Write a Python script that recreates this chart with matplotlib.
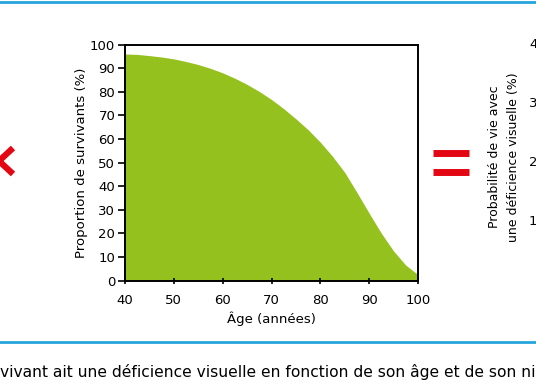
import matplotlib
matplotlib.use("Agg")
import matplotlib.pyplot as plt
from matplotlib.lines import Line2D

# data
ages = [40, 42.5, 45, 47.5, 50, 52.5, 55, 57.5, 60, 62.5, 65, 67.5, 70, 72.5,
        75, 77.5, 80, 82.5, 85, 87.5, 90, 92.5, 95, 97.5, 100]
survivors = [96.0, 95.8, 95.3, 94.7, 93.9, 92.8, 91.5, 89.9, 88.0, 85.7, 83.1,
             80.1, 76.7, 72.8, 68.5, 63.9, 58.6, 52.6, 45.8, 37.3, 28.5, 20.0,
             12.5, 6.5, 2.5]
x_ticks = [40, 50, 60, 70, 80, 90, 100]
y_ticks = [0, 10, 20, 30, 40, 50, 60, 70, 80, 90, 100]
right_ticks = [10, 20, 30, 40]   # next panel, only partly visible

GREEN = '#95c11f'
RED = '#e30613'
BLUE = '#27a3dc'
W, H = 536, 386

plt.rcParams['font.family'] = ['DejaVu Sans']

fig = plt.figure(figsize=(W / 100, H / 100), dpi=100)

# ── main panel ──────────────────────────────────────────────────────────────
ax = fig.add_axes([125 / W, 1 - 280.5 / H, 293 / W, 236 / H])
ax.fill_between(ages, survivors, 0, color=GREEN, lw=0)
ax.set_xlim(40, 100)
ax.set_ylim(0, 100)
ax.set_xticks(x_ticks)
ax.set_yticks(y_ticks)
for s in ax.spines.values():
    s.set_linewidth(1.4)
ax.tick_params(axis='y', direction='out', length=5, width=1.2, pad=2, labelsize=9.5)
ax.tick_params(axis='x', direction='inout', length=5, width=1.2, pad=7, labelsize=9.5)
ax.set_xlabel('Âge (années)', fontsize=9.5)
ax.xaxis.set_label_coords(0.5, -0.13)
ax.set_ylabel('Proportion de survivants (%)', fontsize=9.5)
ax.yaxis.set_label_coords(-0.125, 0.5)

# ── decorations: blue rules, operators, next panel ─────────────────────────
for y in (2, 342):
    fig.add_artist(Line2D([0, 1], [1 - y / H] * 2, color=BLUE, lw=2,
                          transform=fig.transFigure))

# multiplication sign, cut by the left edge
for dy in (-13, 13):
    fig.add_artist(Line2D([-1 / W, 13 / W], [1 - 161 / H, 1 - (161 + dy) / H],
                          color=RED, lw=4.5, solid_capstyle='butt',
                          transform=fig.transFigure))

# equals sign
for y in (152.5, 171.5):
    fig.add_artist(Line2D([433 / W, 469 / W], [1 - y / H] * 2, color=RED, lw=5,
                          solid_capstyle='butt', transform=fig.transFigure))

fig.text(494 / W, 1 - 157 / H, 'Probabilité de vie avec', rotation=90,
         ha='center', va='center', fontsize=9)
fig.text(513 / W, 1 - 157 / H, 'une déficience visuelle (%)', rotation=90,
         ha='center', va='center', fontsize=9)
for v in right_ticks:
    fig.text(529 / W, 1 - (280.5 - v * 5.9) / H, str(v), ha='left',
             va='center', fontsize=9.5)

fig.text(0, 1 - 372 / H,
         'vivant ait une déficience visuelle en fonction de son âge et de son niveau',
         ha='left', va='center', fontsize=11.2)

fig.savefig('out.png', dpi=100)
